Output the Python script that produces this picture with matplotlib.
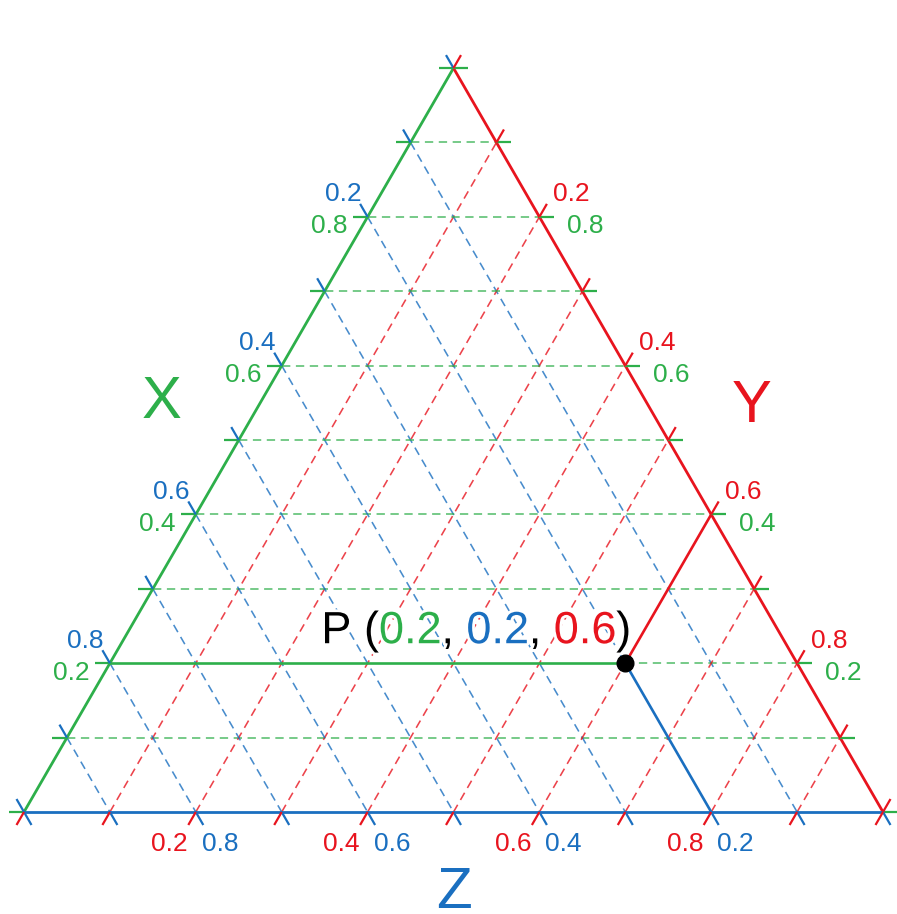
import numpy as np
import matplotlib
matplotlib.use('Agg')
import matplotlib.pyplot as plt
import matplotlib.patheffects as pe

plt.rcParams['font.family'] = ['Liberation Sans', 'DejaVu Sans']
plt.rcParams['lines.scale_dashes'] = False

# grid values (fractions along each axis)
grid = [0.1, 0.2, 0.3, 0.4, 0.5, 0.6, 0.7, 0.8, 0.9]
ticks = [0.0, 0.1, 0.2, 0.3, 0.4, 0.5, 0.6, 0.7, 0.8, 0.9, 1.0]
labelled = [0.2, 0.4, 0.6, 0.8]
label_text = ['0.2', '0.4', '0.6', '0.8']
label_comp = ['0.8', '0.6', '0.4', '0.2']

# point P as (X, Z, Y)
p_x, p_z, p_y = 0.2, 0.2, 0.6

GREEN = '#2daf4a'
RED = '#e8141e'
BLUE = '#1a6fc0'

S3 = np.sqrt(3) / 2


def tern(x, y, z):
    # X at top, Y bottom-right, Z bottom-left
    return y + 0.5 * x, S3 * x


fig = plt.figure(figsize=(8.97, 9.14), dpi=100)
ax = fig.add_axes([0, 0, 1, 1])
ax.set_xlim(-24 / 859, 873 / 859)
ax.set_ylim(-102 / 859, 812 / 859)
ax.axis('off')

dash = dict(lw=1.15, ls=(0, (6, 4)), alpha=0.8, zorder=1)

# dashed grid lines
for t in grid:
    # constant X (horizontal), from left edge to right edge
    a = tern(t, 0, 1 - t)
    b = tern(t, 1 - t, 0)
    if np.isclose(t, p_x):
        a = tern(p_x, p_y, p_z)
    ax.plot([a[0], b[0]], [a[1], b[1]], color=GREEN, **dash)
    # constant Y, from bottom edge to right edge
    a = tern(0, t, 1 - t)
    b = tern(1 - t, t, 0)
    if np.isclose(t, p_y):
        b = tern(p_x, p_y, p_z)
    ax.plot([a[0], b[0]], [a[1], b[1]], color=RED, **dash)
    # constant Z, from left edge to bottom edge
    a = tern(1 - t, 0, t)
    b = tern(0, 1 - t, t)
    if np.isclose(t, p_z):
        b = tern(p_x, p_y, p_z)
    ax.plot([a[0], b[0]], [a[1], b[1]], color=BLUE, **dash)

# solid lines from P to the three edges
P = tern(p_x, p_y, p_z)
for end, col in [(tern(p_x, 0, 1 - p_x), GREEN),
                 (tern(1 - p_y, p_y, 0), RED),
                 (tern(0, 1 - p_z, p_z), BLUE)]:
    ax.plot([P[0], end[0]], [P[1], end[1]], color=col, lw=1.9, zorder=3)

# triangle edges
ax.plot(*zip(tern(0, 0, 1), tern(1, 0, 0)), color=GREEN, lw=2.0, zorder=4)
ax.plot(*zip(tern(1, 0, 0), tern(0, 1, 0)), color=RED, lw=2.0, zorder=4)
ax.plot(*zip(tern(0, 0, 1), tern(0, 1, 0)), color=BLUE, lw=2.0, zorder=4)

# ticks
L = 15 / 859
tk = dict(lw=1.6, zorder=5, solid_capstyle='butt')
for t in ticks:
    lx, ly = tern(t, 0, 1 - t)
    ax.plot([lx, lx - L], [ly, ly], color=GREEN, **tk)
    ax.plot([lx, lx - 0.5 * L], [ly, ly + S3 * L], color=BLUE, **tk)
    rx, ry = tern(t, 1 - t, 0)
    ax.plot([rx, rx + L], [ry, ry], color=GREEN, **tk)
    ax.plot([rx, rx + 0.5 * L], [ry, ry + S3 * L], color=RED, **tk)
    bx, by = tern(0, t, 1 - t)
    ax.plot([bx, bx + 0.5 * L], [by, by - S3 * L], color=BLUE, **tk)
    ax.plot([bx, bx - 0.5 * L], [by, by - S3 * L], color=RED, **tk)

# tick labels
fs = 19
px2pt = 0.72
for t, lab, comp in zip(labelled, label_text, label_comp):
    lx, ly = tern(t, 0, 1 - t)
    ax.annotate(lab, (lx, ly), xytext=(-20 * px2pt, -16.5 * px2pt), textcoords='offset points',
                ha='right', va='baseline', color=GREEN, fontsize=fs)
    ax.annotate(comp, (lx, ly), xytext=(-6 * px2pt, 15.5 * px2pt), textcoords='offset points',
                ha='right', va='baseline', color=BLUE, fontsize=fs)
    rx, ry = tern(t, 1 - t, 0)
    ax.annotate(lab, (rx, ry), xytext=(28 * px2pt, -16.5 * px2pt), textcoords='offset points',
                ha='left', va='baseline', color=GREEN, fontsize=fs)
    ax.annotate(comp, (rx, ry), xytext=(14 * px2pt, 15.5 * px2pt), textcoords='offset points',
                ha='left', va='baseline', color=RED, fontsize=fs)
    bx, by = tern(0, t, 1 - t)
    ax.annotate(lab, (bx, by), xytext=(-8 * px2pt, -39 * px2pt), textcoords='offset points',
                ha='right', va='baseline', color=RED, fontsize=fs)
    ax.annotate(comp, (bx, by), xytext=(6 * px2pt, -39 * px2pt), textcoords='offset points',
                ha='left', va='baseline', color=BLUE, fontsize=fs)

# axis names
ax.text(138 / 859, 394 / 859, 'X', color=GREEN, fontsize=43, ha='center', va='baseline')
ax.text(728 / 859, 390 / 859, 'Y', color=RED, fontsize=43, ha='center', va='baseline')
ax.text(0.5, -96 / 859, 'Z', color=BLUE, fontsize=42, ha='center', va='baseline')

# point P and its label
ax.plot(*P, 'o', color='black', ms=12, zorder=6)
outline = [pe.withStroke(linewidth=4, foreground='white')]
parts = [('P', 'black'), (' (', 'black'), ('0.2', GREEN), (',', 'black'),
         (' 0.2', BLUE), (',', 'black'), (' 0.6', RED), (')', 'black')]
prev = ax.annotate(parts[0][0], P, xytext=(-304 * px2pt, 20 * px2pt), textcoords='offset points',
                   ha='left', va='baseline', fontsize=32.5, color=parts[0][1],
                   path_effects=outline, zorder=7)
for s, c in parts[1:]:
    prev = ax.annotate(s, xy=(1, 0), xycoords=prev, ha='left', va='bottom',
                       fontsize=32.5, color=c, path_effects=outline, zorder=7)

fig.savefig('out.png', dpi=100)
